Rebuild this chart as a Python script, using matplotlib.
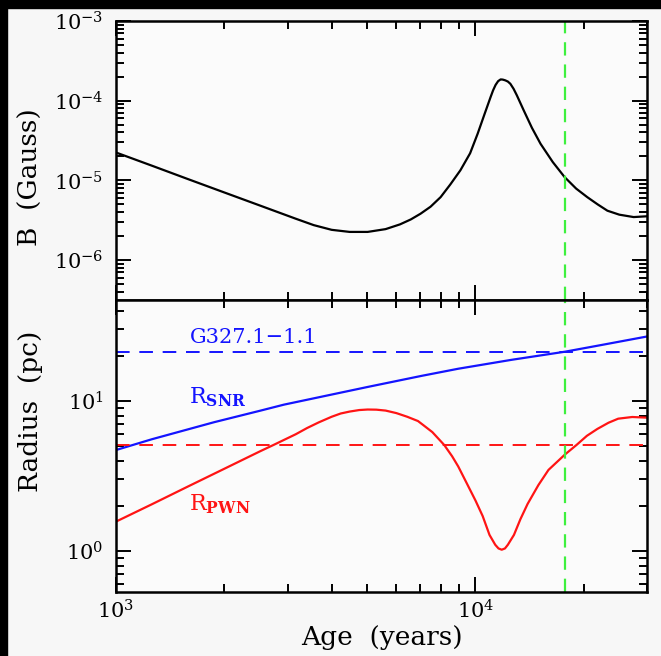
import matplotlib
matplotlib.use("Agg")
import matplotlib.pyplot as plt
from matplotlib.patches import Rectangle

# ---------------- data ----------------
age_B = [1000, 1259, 1585, 1995, 2512, 3162, 3548, 3981, 4467, 5012, 5623, 6166,
         6607, 7031, 7499, 7998, 8511, 9078, 9661, 10139, 10593, 11015, 11194,
         11376, 11561, 11749, 11912, 12106, 12303, 12503, 12764, 13032, 13614,
         14355, 15171, 16406, 17701, 19055, 20464, 21878, 23281, 25119, 27542, 30000]
B_gauss = [2.24e-5, 1.53e-5, 1.04e-5, 7.1e-6, 4.85e-6, 3.31e-6, 2.75e-6, 2.40e-6,
           2.26e-6, 2.26e-6, 2.45e-6, 2.81e-6, 3.24e-6, 3.82e-6, 4.68e-6, 6.17e-6,
           8.9e-6, 1.34e-5, 2.19e-5, 3.85e-5, 6.76e-5, 1.11e-4, 1.35e-4,
           1.58e-4, 1.76e-4, 1.85e-4, 1.84e-4, 1.80e-4, 1.74e-4, 1.63e-4, 1.41e-4,
           1.17e-4, 7.6e-5, 4.57e-5, 2.88e-5, 1.70e-5, 1.10e-5, 7.9e-6, 6.17e-6,
           5.0e-6, 4.17e-6, 3.72e-6, 3.47e-6, 3.55e-6]

age_snr = [1000, 1259, 1875, 2512, 2931, 5012, 7079, 8954, 12589, 17742, 22387, 30000]
R_snr = [4.71, 5.56, 7.22, 8.6, 9.45, 12.4, 14.7, 16.4, 18.8, 21.3, 23.6, 26.9]

age_pwn = [1000, 1259, 1585, 1995, 2512, 2742, 3162, 3400, 3664, 3981, 4217, 4467,
           4750, 5012, 5300, 5623, 6026, 6457, 6918, 7161, 7586, 8185, 8610, 8954,
           9462, 10000, 10471, 10940, 11350, 11588, 11830, 12078, 12303, 12794,
           13335, 13964, 14962, 15959, 17742, 19099, 20417, 21827, 23442, 24946,
           27290, 30000]
R_pwn = [1.57, 2.05, 2.69, 3.52, 4.61, 5.09, 6.0, 6.6, 7.2, 7.85, 8.25, 8.5,
         8.7, 8.77, 8.75, 8.63, 8.3, 7.85, 7.35, 6.9, 6.2, 5.09, 4.28, 3.66,
         2.82, 2.17, 1.71, 1.28, 1.10, 1.04, 1.02, 1.04, 1.10, 1.28, 1.63, 2.06,
         2.75, 3.47, 4.40, 5.09, 5.86, 6.51, 7.16, 7.62, 7.82, 7.74]

R_obs_snr = 21.3      # G327.1-1.1 SNR radius
R_obs_pwn = 5.1       # PWN radius
age_obs = 17700       # age marker

xlim = (1000, 30000)
ylim_B = (10**-6.5, 1e-3)
ylim_R = (0.533, 47.1)

# ---------------- style ----------------
plt.rcParams['font.family'] = ['DejaVu Serif']
plt.rcParams['mathtext.fontset'] = 'dejavuserif'

BLUE = '#1414ff'
RED = '#ff1414'
GREEN = '#3ef03e'

fig = plt.figure(figsize=(6.61, 6.56), dpi=100, facecolor='#f7f7f7')
W, H = 661, 656
L, R_ = 116 / W, 647 / W
top_y, mid_y, bot_y = 21, 300, 592
ax1 = fig.add_axes([L, 1 - mid_y / H, R_ - L, (mid_y - top_y) / H])
ax2 = fig.add_axes([L, 1 - bot_y / H, R_ - L, (bot_y - mid_y) / H], sharex=ax1)

# black frame bands
fig.patches.append(Rectangle((0, 1 - 8 / H), 1, 8 / H, transform=fig.transFigure,
                             color='black', zorder=0))
fig.patches.append(Rectangle((0, 0), 7 / W, 1, transform=fig.transFigure,
                             color='black', zorder=0))

for ax in (ax1, ax2):
    ax.set_facecolor('#fbfbfb')
    ax.set_xscale('log')
    ax.set_yscale('log')
    for s in ax.spines.values():
        s.set_linewidth(1.8)
    ax.tick_params(which='both', direction='in', top=True, right=True, width=1.4)
    ax.tick_params(which='major', length=11, labelsize=15, pad=9)
    ax.tick_params(which='minor', length=5.5)

# top panel
ax1.plot(age_B, B_gauss, color='black', lw=1.6)
ax1.axvline(age_obs, color=GREEN, lw=1.6, dashes=(6, 4))
ax1.set_ylim(*ylim_B)
ax1.set_ylabel('B  (Gauss)', fontsize=19)
ax1.yaxis.set_label_coords(-0.138, 0.44)
ax1.tick_params(labelbottom=False)

# bottom panel
ax2.plot(age_snr, R_snr, color=BLUE, lw=1.6)
ax2.plot(age_pwn, R_pwn, color=RED, lw=1.6)
ax2.axhline(R_obs_snr, color=BLUE, lw=1.4, dashes=(7, 5))
ax2.axhline(R_obs_pwn, color=RED, lw=1.4, dashes=(7, 5))
ax2.axvline(age_obs, color=GREEN, lw=1.6, dashes=(6, 4))
ax2.set_ylim(*ylim_R)
ax2.set_xlim(*xlim)
ax2.set_ylabel('Radius  (pc)', fontsize=19)
ax2.yaxis.set_label_coords(-0.138, 0.62)
ax2.set_xlabel('Age  (years)', fontsize=19, labelpad=2)
ax2.tick_params(axis='x', which='major', pad=5)

ax2.text(1600, 26.5, 'G327.1\u22121.1', color=BLUE, fontsize=15, va='center', ha='left')
ax2.text(1600, 10.6, r'R$_{\mathbf{SNR}}$', color=BLUE, fontsize=16, va='center', ha='left')
ax2.text(1600, 2.05, r'R$_{\mathbf{PWN}}$', color=RED, fontsize=16, va='center', ha='left')

fig.savefig('out.png', dpi=100, facecolor=fig.get_facecolor())
